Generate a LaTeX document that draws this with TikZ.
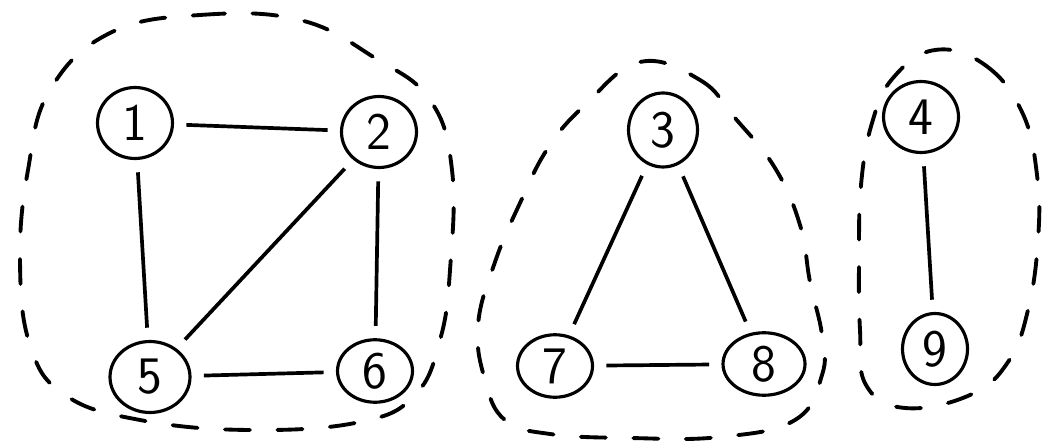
\documentclass[tikz,border=0pt]{standalone}
\usetikzlibrary{shapes.geometric}
\begin{document}
\begin{tikzpicture}[x=0.02cm, y=-0.02cm, line width=1.8pt,
    vertex/.style={draw, ellipse, minimum width=1.5cm, minimum height=1.42cm,
      inner sep=0pt, font=\sffamily\fontsize{30}{34}\selectfont},
    flat/.style={minimum height=1.25cm},
    link/.style={line width=2.1pt, shorten >=7pt, shorten <=7pt},
    blob/.style={line width=2.2pt, line cap=round, dash pattern=on 0.5cm off 0.55cm}]
    \useasboundingbox (0,0) rectangle (1043,445);

    % first component
    \node[vertex] (v1) at (135,123) {1};
    \node[vertex] (v2) at (379,132) {2};
    \node[vertex, minimum width=1.6cm] (v5) at (150,377) {5};
    \node[vertex, flat] (v6) at (375,371) {6};

    % second component
    \node[vertex, minimum width=1.38cm, minimum height=1.48cm] (v3) at (663,130) {3};
    \node[vertex, flat] (v7) at (555,366) {7};
    \node[vertex, flat, minimum width=1.64cm] (v8) at (764,364) {8};

    % third component
    \node[vertex] (v4) at (921,117) {4};
    \node[vertex, minimum width=1.3cm] (v9) at (935,349) {9};

    \path[link] (v1) edge (v2)
          (v1) edge (v5)
          (v2) edge (v5)
          (v2) edge (v6)
          (v5) edge (v6)
          (v3) edge (v7)
          (v3) edge (v8)
          (v7) edge (v8)
          (v4) edge (v9);

    % dashed outlines of the components
    \draw[blob] plot[smooth cycle, tension=0.7] coordinates {(110,33) (200,15) (300,20)
      (375,58) (430,100) (452,170) (450,270) (440,340) (415,395) (360,422) (250,430)
      (140,420) (65,395) (30,345) (20,260) (28,170) (50,90)};
    \draw[blob] plot[smooth cycle, tension=0.7] coordinates {(640,62) (700,80) (735,118)
      (775,168) (800,225) (810,282) (822,335) (822,375) (795,420) (720,437) (630,438)
      (550,434) (505,420) (485,380) (478,325) (495,262) (520,203) (548,148) (585,105)};
    \draw[blob] plot[smooth cycle, tension=0.7] coordinates {(935,50) (985,65) (1022,112)
      (1037,175) (1038,240) (1028,310) (1008,362) (970,395) (905,408) (866,385)
      (860,330) (859,260) (861,185) (872,123) (893,78)};
  \end{tikzpicture}
\end{document}
